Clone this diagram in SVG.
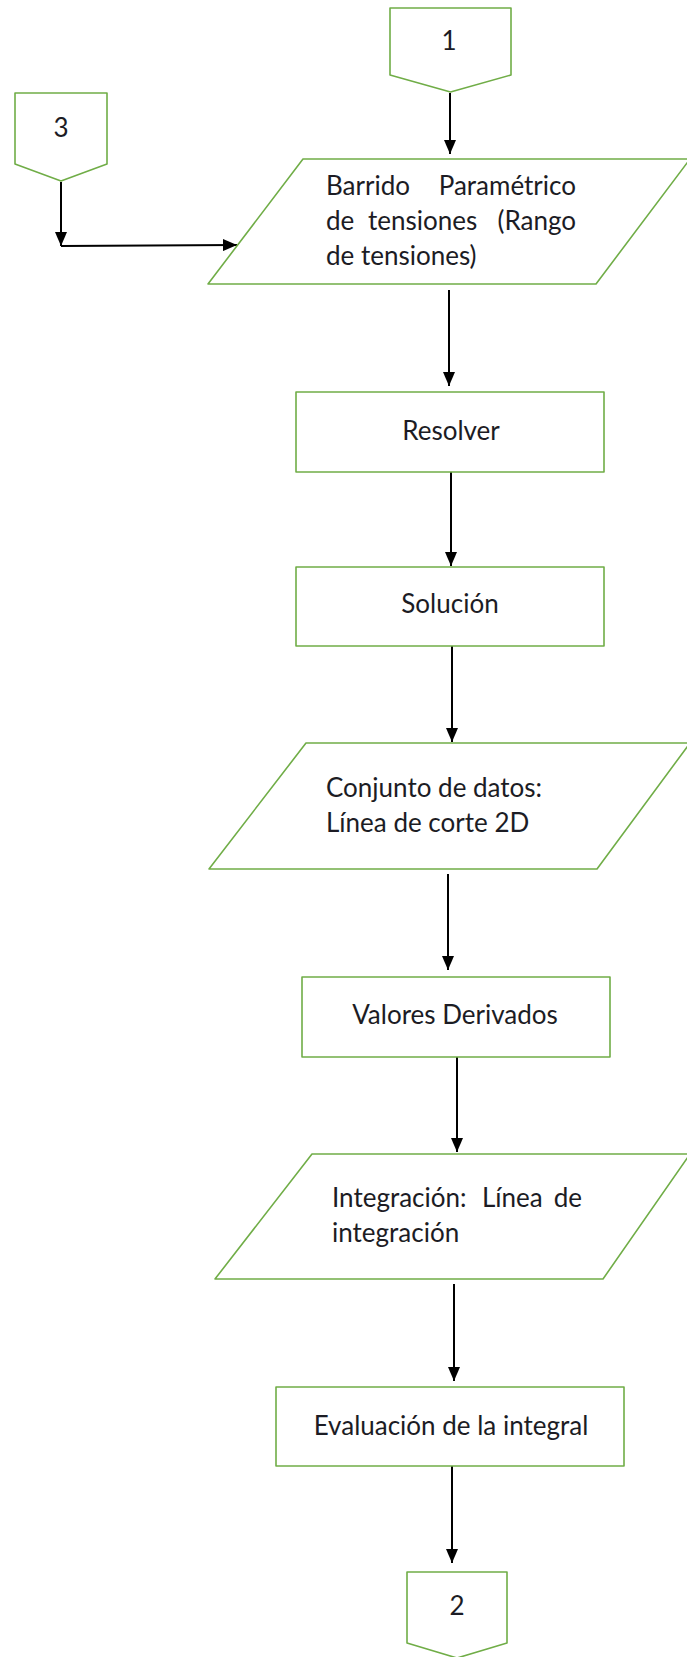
<svg xmlns="http://www.w3.org/2000/svg" width="687" height="1657" viewBox="0 0 687 1657">
<defs>
<style>
.node{fill:#fff;stroke:#70AD47;stroke-width:1.6;stroke-linejoin:round}
.lbl{font-family:Lato,"Open Sans","Liberation Sans",sans-serif;font-size:26px;fill:#1c1c24}
.mid{text-anchor:middle}
.end{text-anchor:end}
.edge{fill:none;stroke:#000;stroke-width:2}
</style>
<marker id="ah" viewBox="0 0 14 12" refX="14" refY="6" markerWidth="14" markerHeight="12" markerUnits="userSpaceOnUse" orient="auto">
<path d="M0,0 L14,6 L0,12 Z" fill="#000"/>
</marker>
</defs>
<rect width="687" height="1657" fill="#fff"/>
<g id="connectors">
<path class="edge" d="M450,93 V154" marker-end="url(#ah)"/>
<path class="edge" d="M61,182 V246" marker-end="url(#ah)"/>
<path class="edge" d="M61,246 L237,245" marker-end="url(#ah)"/>
<path class="edge" d="M449,290 V386" marker-end="url(#ah)"/>
<path class="edge" d="M451,472 V566" marker-end="url(#ah)"/>
<path class="edge" d="M452,646 V742" marker-end="url(#ah)"/>
<path class="edge" d="M448,874 V970" marker-end="url(#ah)"/>
<path class="edge" d="M457,1057 V1152" marker-end="url(#ah)"/>
<path class="edge" d="M454,1284 V1381" marker-end="url(#ah)"/>
<path class="edge" d="M452,1466 V1563" marker-end="url(#ah)"/>
</g>
<g id="n1">
<path class="node" d="M390,8 H511 V75 L450.5,92 L390,75 Z"/>
<text class="lbl mid" x="449" y="50">1</text>
</g>
<g id="n3">
<path class="node" d="M15,93 H107 V164 L61,181 L15,164 Z"/>
<text class="lbl mid" x="61" y="137">3</text>
</g>
<g id="n_barrido">
<path class="node" d="M303,159 H690 L596,284 H208 Z"/>
<text class="lbl" x="326" y="195">Barrido</text>
<text class="lbl end" x="576" y="195">Paramétrico</text>
<text class="lbl" x="326" y="230">de</text>
<text class="lbl" x="368" y="230">tensiones</text>
<text class="lbl end" x="576" y="230">(Rango</text>
<text class="lbl" x="326" y="265">de tensiones)</text>
</g>
<g id="n_resolver">
<rect class="node" x="296" y="392" width="308" height="80"/>
<text class="lbl mid" x="451" y="440">Resolver</text>
</g>
<g id="n_solucion">
<rect class="node" x="296" y="567" width="308" height="79"/>
<text class="lbl mid" x="450" y="613">Solución</text>
</g>
<g id="n_conjunto">
<path class="node" d="M306,743 H690 L597,869 H209 Z"/>
<text class="lbl" x="326" y="797">Conjunto de datos:</text>
<text class="lbl" x="326" y="832">Línea de corte 2D</text>
</g>
<g id="n_valores">
<rect class="node" x="302" y="977" width="308" height="80"/>
<text class="lbl mid" x="455" y="1024">Valores Derivados</text>
</g>
<g id="n_integracion">
<path class="node" d="M312,1154 H690 L603,1279 H215 Z"/>
<text class="lbl" x="332" y="1207">Integración:</text>
<text class="lbl" x="482" y="1207">Línea</text>
<text class="lbl end" x="582" y="1207">de</text>
<text class="lbl" x="332" y="1242">integración</text>
</g>
<g id="n_evaluacion">
<rect class="node" x="276" y="1387" width="348" height="79"/>
<text class="lbl mid" x="451" y="1435">Evaluación de la integral</text>
</g>
<g id="n2">
<path class="node" d="M407,1572 H507 V1643 L457,1658 L407,1643 Z"/>
<text class="lbl mid" x="457" y="1615">2</text>
</g>
</svg>
